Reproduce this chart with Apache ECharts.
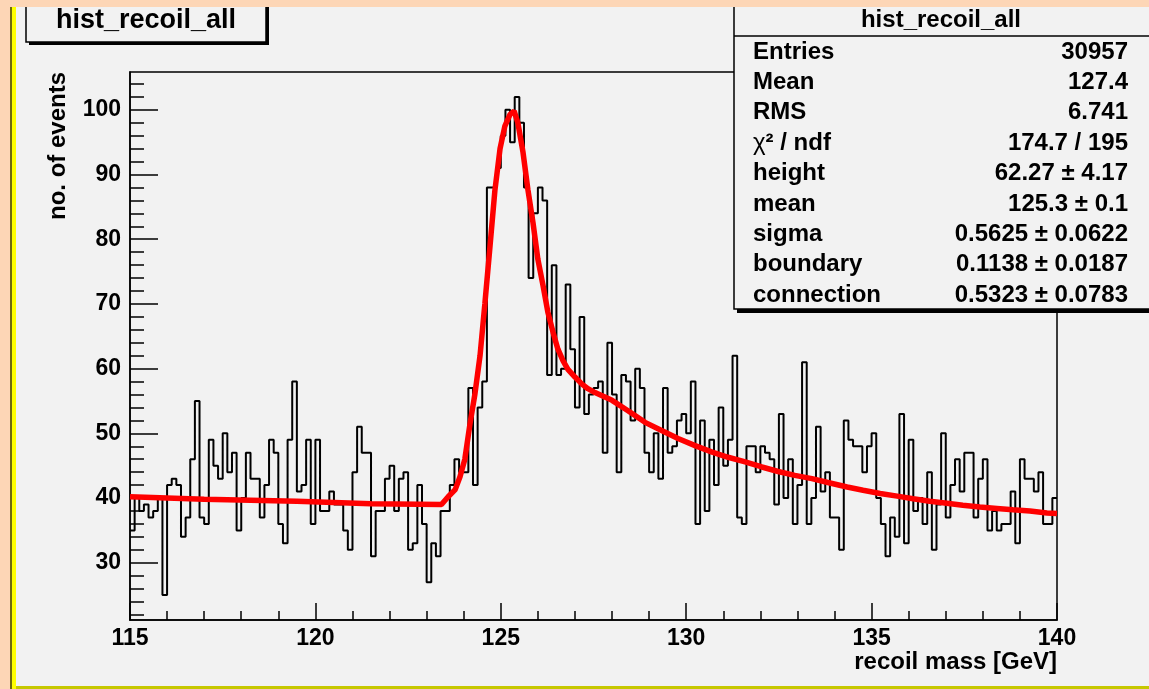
<!DOCTYPE html>
<html>
<head>
<meta charset="utf-8">
<title>hist_recoil_all</title>
<script src="https://cdn.jsdelivr.net/npm/echarts@6/dist/echarts.min.js"></script>
<style>
  html, body { margin: 0; padding: 0; background: #fdd6b6; }
  #chart { width: 1149px; height: 689px; }
</style>
</head>
<body>
<div id="chart"></div>
<script>
// histogram binning (200 bins from 115 to 140 GeV)
const xMin = 115
const xMax = 140
const binWidth = 0.125

// bin contents
const counts = [
  35, 40, 38, 39, 37, 38, 40, 25, 42, 43, 42, 34, 37, 46, 55, 37, 36, 49, 45, 43,
  50, 44, 47, 35, 40, 47, 43, 43, 37, 42, 49, 47, 36, 33, 49, 58, 41, 42, 49, 36,
  49, 38, 38, 41, 39, 39, 35, 32, 44, 51, 47, 47, 31, 38, 38, 43, 45, 38, 43, 44,
  32, 33, 42, 36, 27, 33, 31, 38, 38, 42, 46, 44, 44, 57, 42, 54, 58, 88, 88, 91,
  96, 100, 95, 102, 98, 88, 74, 84, 88, 86, 59, 76, 59, 60, 73, 63, 54, 68, 53, 56,
  57, 58, 47, 64, 56, 44, 59, 58, 52, 60, 57, 47, 44, 50, 43, 57, 47, 48, 52, 53,
  50, 58, 36, 52, 38, 49, 42, 54, 45, 49, 62, 37, 36, 48, 48, 44, 48, 47, 46, 39,
  53, 40, 46, 36, 42, 61, 36, 40, 51, 41, 44, 37, 37, 32, 52, 49, 48, 48, 44, 48,
  50, 40, 36, 31, 37, 34, 53, 33, 49, 38, 40, 36, 44, 32, 39, 50, 37, 42, 46, 41,
  47, 47, 37, 43, 46, 35, 38, 35, 36, 36, 41, 33, 46, 43, 43, 41, 44, 36, 36, 40
]

// fitted curve, sampled from the red line
const fitX = [
  115, 117, 119.5, 121.5, 123.4, 123.58, 123.77, 123.9, 124.03, 124.17,
  124.3, 124.44, 124.57, 124.71, 124.84, 124.98, 125.11, 125.25, 125.36, 125.46,
  125.6, 125.73, 125.87, 126, 126.14, 126.27, 126.41, 126.54, 126.68, 126.81,
  127, 127.19, 127.35, 127.54, 128, 128.43, 128.89, 129.35, 129.78, 130.24,
  130.7, 131.13, 131.59, 132.04, 132.48, 132.93, 133.39, 133.82, 134.34, 134.77,
  135.23, 135.69, 136.12, 136.57, 137.03, 137.46, 137.92, 138.38, 138.81, 139.27,
  139.73, 140
]
const fitY = [
  40.2, 39.8, 39.5, 39.1, 39.0, 40.2, 41.3, 43.3, 46, 51.5,
  56, 62, 70, 79, 87.5, 94, 97.5, 99.3, 99.8, 98,
  93.4, 87.7, 82.5, 76.9, 72.8, 68.7, 65.6, 63.0, 61.2, 59.9,
  58.7, 57.6, 56.9, 56.3, 55.1, 53.5, 51.7, 50.4, 49.2, 48.1,
  47.1, 46.3, 45.6, 44.8, 44.1, 43.5, 43.0, 42.4, 41.7, 41.2,
  40.7, 40.3, 39.9, 39.5, 39.2, 38.9, 38.6, 38.4, 38.2, 38.0,
  37.7, 37.6
]

const yMin = 21.15
const yMax = 105.85
const yMajorTicks = [30, 40, 50, 60, 70, 80, 90, 100]
const yMinorTicks = [22, 24, 26, 28, 32, 34, 36, 38, 42, 44, 46, 48, 52, 54, 56, 58,
  62, 64, 66, 68, 72, 74, 76, 78, 82, 84, 86, 88, 92, 94, 96, 98, 102, 104]

const histTitle = 'hist_recoil_all'
const statsLabels = ['Entries', 'Mean', 'RMS', '{g|χ}² / ndf', 'height', 'mean', 'sigma', 'boundary', 'connection']
const statsValues = ['30957', '127.4', '6.741', '174.7 / 195', '62.27 ± 4.17', '125.3 ± 0.1',
  '0.5625 ± 0.0622', '0.1138 ± 0.0187', '0.5323 ± 0.0783']

const FONT = '"Liberation Sans", Arial, Helvetica, sans-serif'
const PAD = '#f2f2f2'

const histData = counts.map((c, i) => [xMin + i * binWidth, c])
histData.push([xMax, counts[counts.length - 1]])
const fitData = fitX.map((x, i) => [x, fitY[i]])

const txt = (x, y, text, size, align, extra) => ({
  type: 'text', x, y, z: 120,
  style: Object.assign({
    text, fill: '#000', font: `bold ${size}px ${FONT}`,
    align, verticalAlign: 'middle'
  }, extra || {})
})

const graphics = [
  // pad background
  { type: 'rect', z: -10, shape: { x: 16, y: 7, width: 1140, height: 679 }, style: { fill: PAD } },
  // title box
  { type: 'rect', z: 110, shape: { x: 29, y: -5, width: 240, height: 50 }, style: { fill: '#000' } },
  { type: 'rect', z: 111, shape: { x: 26, y: -5, width: 240, height: 47 }, style: { fill: PAD, stroke: '#000', lineWidth: 1.5 } },
  txt(146, 21, histTitle, 27, 'center'),
  // stats box
  { type: 'rect', z: 110, shape: { x: 737, y: -5, width: 430, height: 318 }, style: { fill: '#000' } },
  { type: 'rect', z: 111, shape: { x: 734, y: -5, width: 430, height: 314 }, style: { fill: PAD, stroke: '#000', lineWidth: 1.5 } },
  { type: 'line', z: 112, shape: { x1: 734, y1: 36, x2: 1160, y2: 36 }, style: { stroke: '#000', lineWidth: 1.5 } },
  txt(941, 20, histTitle, 24, 'center'),
  // axis titles
  txt(1057, 662, 'recoil mass [GeV]', 24, 'right'),
  Object.assign(txt(58, 72, 'no. of events', 24, 'right'), { rotation: Math.PI / 2 }),
  // slide border
  { type: 'rect', z: 200, shape: { x: 0, y: 0, width: 1149, height: 7 }, style: { fill: '#fdd6b6' } },
  { type: 'rect', z: 200, shape: { x: 0, y: 0, width: 10, height: 689 }, style: { fill: '#fdd6b6' } },
  { type: 'rect', z: 201, shape: { x: 10, y: 7, width: 2, height: 682 }, style: { fill: '#6e6a10' } },
  { type: 'rect', z: 201, shape: { x: 12, y: 7, width: 4, height: 682 }, style: { fill: '#ffff00' } },
  { type: 'rect', z: 200, shape: { x: 12, y: 686, width: 1137, height: 3 }, style: { fill: '#c6c800' } }
]

statsLabels.forEach((label, k) => {
  const y = 52 + k * 30.4
  graphics.push(txt(753, y, label, 24, 'left', {
    rich: { g: { font: `${24}px ${FONT}`, fill: '#000' } }
  }))
  graphics.push(txt(1128, y, statsValues[k], 24, 'right'))
})

const chart = echarts.init(document.getElementById('chart'))

chart.setOption({
  animation: false,
  backgroundColor: 'transparent',
  grid: {
    left: 130, top: 72, width: 927, height: 548,
    show: true, borderColor: '#000', borderWidth: 1.5, backgroundColor: 'transparent'
  },
  xAxis: {
    type: 'value', min: xMin, max: xMax, interval: 5,
    axisLine: { show: true, onZero: false, lineStyle: { color: '#000', width: 1.5 } },
    axisTick: { inside: true, length: 17, lineStyle: { color: '#000', width: 1.5 } },
    minorTick: { show: true, splitNumber: 5, length: 9, lineStyle: { color: '#000', width: 1.5 } },
    axisLabel: { color: '#000', fontFamily: FONT, fontWeight: 'bold', fontSize: 23, margin: 7 },
    splitLine: { show: false }
  },
  yAxis: [
    {
      type: 'value', min: yMin, max: yMax,
      axisLine: { show: true, onZero: false, lineStyle: { color: '#000', width: 1.5 } },
      axisTick: { inside: true, length: 28, customValues: yMajorTicks, lineStyle: { color: '#000', width: 1.5 } },
      axisLabel: { customValues: yMajorTicks, color: '#000', fontFamily: FONT, fontWeight: 'bold', fontSize: 23, margin: 9 },
      splitLine: { show: false }
    },
    {
      type: 'value', min: yMin, max: yMax, position: 'left',
      axisLine: { show: false },
      axisTick: { inside: true, length: 14, customValues: yMinorTicks, lineStyle: { color: '#000', width: 1.5 } },
      axisLabel: { show: false },
      splitLine: { show: false }
    }
  ],
  series: [
    {
      name: 'hist', type: 'line', step: 'end', data: histData,
      showSymbol: false, yAxisIndex: 0,
      lineStyle: { color: '#000', width: 2 }, z: 2
    },
    {
      name: 'fit', type: 'line', data: fitData,
      showSymbol: false, yAxisIndex: 0,
      lineStyle: { color: '#ff0000', width: 5.5 }, z: 3
    }
  ],
  graphic: { elements: graphics }
})
</script>
</body>
</html>
